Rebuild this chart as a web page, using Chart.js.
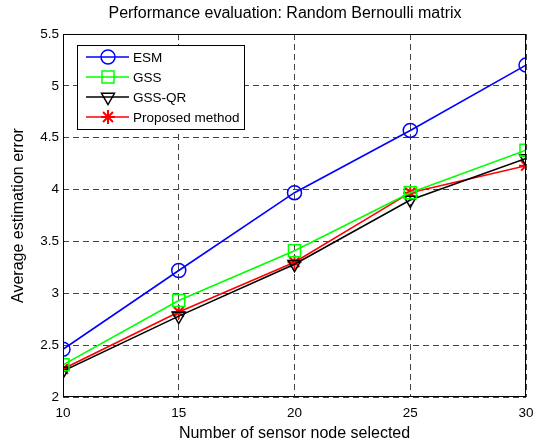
<!DOCTYPE html>
<html><head><meta charset="utf-8">
<script src="https://cdn.jsdelivr.net/npm/chart.js@4/dist/chart.umd.min.js"></script>
<style>html,body{margin:0;padding:0;background:#fff}#wrap{width:536px;height:443px}</style>
</head><body><div id="wrap"><canvas id="c" width="536" height="443"></canvas></div>
<script>
const categories = [10, 15, 20, 25, 30];
const esm = [2.46, 3.22, 3.97, 4.57, 5.20];
const gss = [2.31, 2.93, 3.41, 3.97, 4.38];
const gssqr = [2.25, 2.78, 3.28, 3.90, 4.30];
const proposed = [2.27, 2.82, 3.30, 3.97, 4.23];
const yTicks = [2, 2.5, 3, 3.5, 4, 4.5, 5, 5.5];
const seriesNames = ['ESM', 'GSS', 'GSS-QR', 'Proposed method'];

const FONT = 'Liberation Sans, Arial, sans-serif';
function pts(arr){ return categories.map((x,i)=>({x:x, y:arr[i]})); }

const framePlugin = {
  id:'frame',
  afterDraw(chart){
    const ctx = chart.ctx, a = chart.chartArea;
    ctx.save();
    ctx.strokeStyle='#000'; ctx.lineWidth=1; ctx.setLineDash([]);
    ctx.strokeRect(a.left+0.5, a.top+0.5, a.right-a.left-1, a.bottom-a.top-1);
    // title
    ctx.fillStyle='#000'; ctx.font='16px '+FONT; ctx.textAlign='center'; ctx.textBaseline='middle';
    ctx.fillText('Performance evaluation: Random Bernoulli matrix', 285, 14);
    // legend
    const lx=77, ly=45, lw=167, lh=84;
    ctx.fillStyle='#fff'; ctx.fillRect(lx,ly,lw,lh);
    ctx.strokeStyle='#000'; ctx.lineWidth=1; ctx.strokeRect(lx+0.5,ly+0.5,lw,lh);
    chart.data.datasets.forEach((ds,i)=>{
      const y = ly+12+i*20;
      ctx.strokeStyle=ds.borderColor; ctx.lineWidth=1.6;
      ctx.beginPath(); ctx.moveTo(lx+9,y); ctx.lineTo(lx+52,y); ctx.stroke();
      ctx.fillStyle='rgba(0,0,0,0)';
      ctx.lineWidth=ds.pointBorderWidth;
      Chart.helpers.drawPoint(ctx,{pointStyle:ds.pointStyle,radius:ds.pointRadius,rotation:ds.pointRotation||0,borderWidth:ds.pointBorderWidth},lx+31,y);
      ctx.fillStyle='#000'; ctx.font='13.5px '+FONT; ctx.textAlign='left'; ctx.textBaseline='middle';
      ctx.fillText(ds.label, lx+56, y+1);
    });
    ctx.restore();
  }
};

const mk = (label,data,color,style,r,rot,bw)=>({
  label, data:pts(data), borderColor:color, backgroundColor:'rgba(0,0,0,0)',
  pointStyle:style, pointRadius:r, pointHoverRadius:r, pointRotation:rot||0,
  pointBorderColor:color, pointBackgroundColor:'rgba(0,0,0,0)', pointBorderWidth:bw||1.5,
  borderWidth:1.6, tension:0
});

new Chart(document.getElementById('c'), {
  type:'line',
  data:{ datasets:[
    mk(seriesNames[0], esm, '#0000ff', 'circle', 7),
    mk(seriesNames[1], gss, '#00ff00', 'rect', 8.5),
    mk(seriesNames[2], gssqr, '#000000', 'triangle', 7.5, 180),
    mk(seriesNames[3], proposed, '#ff0000', 'star', 7, 0, 2)
  ]},
  options:{
    responsive:false, animation:false,
    layout:{padding:{top:34, right:0, left:0, bottom:0}},
    plugins:{legend:{display:false}, tooltip:{enabled:false}, title:{display:false}},
    scales:{
      x:{ type:'linear', min:10, max:30,
        afterBuildTicks(s){ s.ticks = categories.map(v=>({value:v})); },
        afterFit(s){ s.height = 46; s.paddingRight = 7; s.paddingLeft = 0; },
        grid:{ color:'#444', lineWidth:1, drawTicks:false, tickLength:0 },
        border:{ display:false, dash:[6,4] },
        ticks:{ color:'#000', font:{family:FONT,size:13.5}, padding:8, maxRotation:0 },
        title:{ display:true, text:'Number of sensor node selected', color:'#000', font:{family:FONT,size:16}, padding:{top:0,bottom:0} }
      },
      y:{ type:'linear', min:2, max:5.5,
        afterBuildTicks(s){ s.ticks = yTicks.map(v=>({value:v})); },
        afterFit(s){ s.width = 63; },
        grid:{ color:'#444', lineWidth:1, drawTicks:false, tickLength:0 },
        border:{ display:false, dash:[6,4] },
        ticks:{ color:'#000', font:{family:FONT,size:13.5}, padding:4, callback:v=>String(v) },
        title:{ display:true, text:'Average estimation error', color:'#000', font:{family:FONT,size:16}, padding:{top:9,bottom:0} }
      }
    }
  },
  plugins:[framePlugin]
});
</script></body></html>
